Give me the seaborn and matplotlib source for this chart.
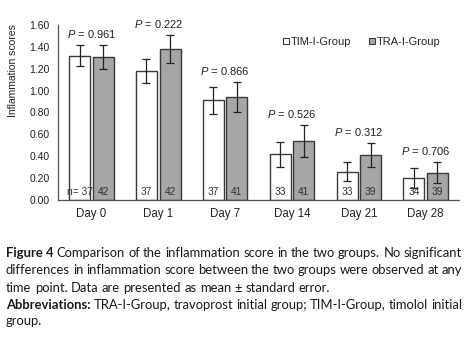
import pandas as pd
import seaborn as sns
import matplotlib.pyplot as plt
from matplotlib.lines import Line2D

# values
days = ["Day 0", "Day 1", "Day 7", "Day 14", "Day 21", "Day 28"]
tim_mean = [1.32, 1.18, 0.91, 0.42, 0.26, 0.20]
tim_se = [0.095, 0.11, 0.125, 0.115, 0.088, 0.09]
tra_mean = [1.31, 1.38, 0.94, 0.54, 0.41, 0.25]
tra_se = [0.11, 0.125, 0.135, 0.15, 0.11, 0.095]
tim_n = [37, 37, 37, 33, 33, 34]
tra_n = [42, 42, 41, 41, 39, 39]
p_values = ["0.961", "0.222", "0.866", "0.526", "0.312", "0.706"]
groups = ["TIM-I-Group", "TRA-I-Group"]

df = pd.DataFrame({
    "day": days * 2,
    "score": tim_mean + tra_mean,
    "se": tim_se + tra_se,
    "n": tim_n + tra_n,
    "group": [groups[0]] * 6 + [groups[1]] * 6,
})

sns.set_style("white")
plt.rcParams["font.family"] = ["Liberation Sans", "DejaVu Sans"]
plt.rcParams["mathtext.fontset"] = "custom"
plt.rcParams["mathtext.it"] = "Liberation Sans:italic"
plt.rcParams["mathtext.rm"] = "Liberation Sans"

fig = plt.figure(figsize=(4.73, 3.51), dpi=100)
ax = fig.add_axes([0.1226, 0.430, 0.848, 0.499])

edge = "#3a3a3a"
sns.barplot(data=df, x="day", y="score", hue="group", order=days, hue_order=groups,
            palette=["white", "#a6a6a6"], edgecolor=edge, linewidth=1.0,
            width=0.705, gap=0.11, errorbar=None, legend=False, ax=ax)

# error bars and n labels on each bar
bars = ax.patches[:12]
for patch, (_, row) in zip(bars, df.iterrows()):
    cx = patch.get_x() + patch.get_width() / 2
    ax.errorbar(cx, row["score"], yerr=row["se"], color="#222222", lw=0.9,
                capsize=3.2, capthick=0.9)
    lab = str(row["n"])
    if row["group"] == groups[0] and row["day"] == days[0]:
        lab = "n= " + lab
    ax.text(cx, 0.07, lab, ha="center", va="center", fontsize=7.3, color="#333333")

# P values above each pair
for i, p in enumerate(p_values):
    top = max(tim_mean[i] + tim_se[i], tra_mean[i] + tra_se[i])
    ax.text(i, top + 0.1, "$P$ = " + p, ha="center", va="center", fontsize=8, color="#222222")

ax.set_ylim(0, 1.6)
ax.set_xlim(-0.5, 5.5)
ax.set_yticks([i * 0.2 for i in range(9)])
ax.set_yticklabels([f"{i * 0.2:.2f}" for i in range(9)], fontsize=7.5, color="#222222")
ax.tick_params(axis="x", length=0, labelsize=8.3, colors="#222222", pad=6)
ax.tick_params(axis="y", length=3, width=0.8, color="#555555", direction="out", pad=3)
ax.set_xlabel("")
ax.set_ylabel("Inflammation scores", fontsize=7.5, color="#222222")
ax.yaxis.set_label_coords(-0.1, 0.74)
sns.despine(ax=ax)
for s in ["left", "bottom"]:
    ax.spines[s].set_color("#555555")
    ax.spines[s].set_linewidth(0.9)

handles = [Line2D([], [], marker="s", ls="", markersize=5, markerfacecolor=c,
                  markeredgecolor=edge, markeredgewidth=0.8)
           for c in ["white", "#a6a6a6"]]
ax.legend(handles, groups, ncol=2, frameon=False, fontsize=8, handlelength=0.6,
          handletextpad=0.1, columnspacing=1.6, loc="center left",
          bbox_to_anchor=(0.55, 0.905), borderaxespad=0)

# caption, justified by hand
cap_font = "Lato"
cap_size = 9.4
left_px, right_px = 6, 462
lines = [
    ("Figure 4", "Comparison of the inflammation score in the two groups. No significant", True),
    (None, "differences in inflammation score between the two groups were observed at any", True),
    (None, "time point. Data are presented as mean \u00b1 standard error.", False),
    ("Abbreviations:", "TRA-I-Group, travoprost initial group; TIM-I-Group, timolol initial", True),
    (None, "group.", False),
]
line_y = [253, 270, 288, 305, 321]
W, H = fig.get_size_inches() * fig.dpi
renderer = fig.canvas.get_renderer()


def width_of(word, bold):
    t = fig.text(0, 0, word, fontsize=cap_size, family=cap_font,
                 fontweight="bold" if bold else "normal")
    w = t.get_window_extent(renderer).width
    t.remove()
    return w


for (head, body, justify), yp in zip(lines, line_y):
    words = []
    if head:
        words += [(w, True) for w in head.split()]
    words += [(w, False) for w in body.split()]
    widths = [width_of(w, b) for w, b in words]
    space = width_of("a a", False) - 2 * width_of("a", False)
    if justify and len(words) > 1:
        space = (right_px - left_px - sum(widths)) / (len(words) - 1)
    x = left_px
    for (w, b), wd in zip(words, widths):
        fig.text(x / W, 1 - yp / H, w, fontsize=cap_size, family=cap_font,
                 fontweight="bold" if b else "normal", va="center", color="#1a1a1a")
        x += wd + space

fig.savefig("out.png", dpi=100)
